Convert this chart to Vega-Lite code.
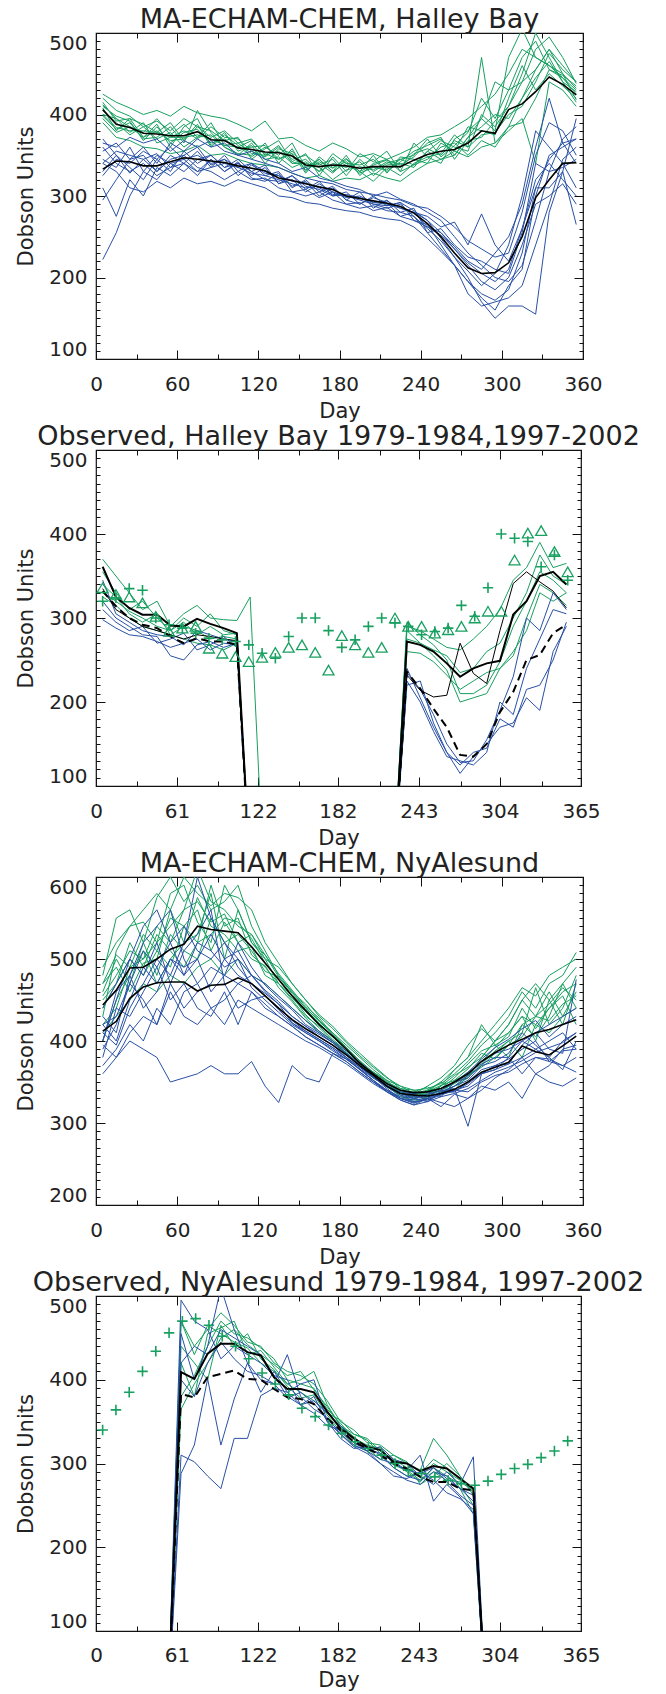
{
"$schema":"https://vega.github.io/schema/vega-lite/v6.json",
"padding":{"left":15,"top":4,"right":0,"bottom":0},
"autosize":{"type":"pad"},
"background":"white",
"config":{
 "view":{"stroke":"#111","strokeWidth":1.2},
 "axis":{"domain":false,"grid":false,"tickColor":"#111","tickWidth":1,"labelFont":"DejaVu Sans","labelFontSize":20,"labelColor":"#222","titleFont":"DejaVu Sans","titleFontSize":21,"titleFontWeight":"normal","titleColor":"#222","labelOverlap":false,"format":"d"},
 "title":{"font":"DejaVu Sans","fontSize":27,"fontWeight":"normal","color":"#222","offset":-1,"baseline":"alphabetic","anchor":"middle","frame":"group"}
},
"datasets":{
"p1":[
{"d":5,"g1":420,"g2":398,"g3":412,"g4":395,"g5":405,"g6":410,"g7":400,"g8":415,"g9":390,"g10":425,"g11":408,"g12":400,"b1":222,"b2":370,"b3":355,"b4":310,"b5":340,"b6":345,"b7":325,"b8":360,"b9":295,"b10":365,"b11":340,"b12":330,"mg":406,"mb":333},
{"d":15,"g1":405,"g2":382,"g3":395,"g4":378,"g5":390,"g6":398,"g7":384,"g8":392,"g9":372,"g10":415,"g11":380,"g12":395,"b1":255,"b2":350,"b3":365,"b4":275,"b5":355,"b6":335,"b7":345,"b8":340,"b9":320,"b10":360,"b11":330,"b12":350,"mg":388,"mb":343},
{"d":25,"g1":398,"g2":390,"g3":378,"g4":385,"g5":375,"g6":392,"g7":380,"g8":395,"g9":368,"g10":408,"g11":395,"g12":385,"b1":300,"b2":335,"b3":345,"b4":320,"b5":350,"b6":360,"b7":340,"b8":330,"b9":345,"b10":372,"b11":310,"b12":328,"mg":384,"mb":342},
{"d":35,"g1":385,"g2":370,"g3":390,"g4":372,"g5":385,"g6":368,"g7":380,"g8":372,"g9":360,"g10":400,"g11":388,"g12":378,"b1":330,"b2":320,"b3":350,"b4":300,"b5":345,"b6":330,"b7":355,"b8":340,"b9":360,"b10":365,"b11":305,"b12":345,"mg":377,"mb":337},
{"d":45,"g1":392,"g2":372,"g3":365,"g4":380,"g5":370,"g6":385,"g7":378,"g8":388,"g9":358,"g10":405,"g11":378,"g12":395,"b1":320,"b2":345,"b3":330,"b4":335,"b5":330,"b6":350,"b7":345,"b8":325,"b9":340,"b10":370,"b11":318,"b12":352,"mg":376,"mb":337},
{"d":55,"g1":380,"g2":385,"g3":372,"g4":368,"g5":378,"g6":365,"g7":372,"g8":360,"g9":352,"g10":398,"g11":390,"g12":375,"b1":340,"b2":330,"b3":350,"b4":325,"b5":345,"b6":340,"b7":360,"b8":335,"b9":365,"b10":355,"b11":310,"b12":335,"mg":374,"mb":342},
{"d":65,"g1":395,"g2":365,"g3":380,"g4":370,"g5":360,"g6":378,"g7":372,"g8":385,"g9":355,"g10":410,"g11":368,"g12":388,"b1":345,"b2":355,"b3":340,"b4":340,"b5":350,"b6":330,"b7":345,"b8":350,"b9":355,"b10":368,"b11":322,"b12":340,"mg":374,"mb":347},
{"d":75,"g1":385,"g2":405,"g3":370,"g4":388,"g5":372,"g6":382,"g7":375,"g8":395,"g9":362,"g10":402,"g11":385,"g12":372,"b1":330,"b2":340,"b3":355,"b4":330,"b5":360,"b6":345,"b7":350,"b8":335,"b9":370,"b10":360,"b11":315,"b12":325,"mg":379,"mb":345},
{"d":85,"g1":372,"g2":378,"g3":385,"g4":360,"g5":375,"g6":365,"g7":370,"g8":362,"g9":350,"g10":398,"g11":380,"g12":390,"b1":335,"b2":350,"b3":335,"b4":345,"b5":338,"b6":350,"b7":340,"b8":330,"b9":360,"b10":368,"b11":318,"b12":345,"mg":369,"mb":343},
{"d":95,"g1":380,"g2":360,"g3":372,"g4":375,"g5":360,"g6":370,"g7":362,"g8":378,"g9":352,"g10":395,"g11":368,"g12":362,"b1":340,"b2":335,"b3":350,"b4":330,"b5":345,"b6":335,"b7":345,"b8":320,"b9":365,"b10":355,"b11":312,"b12":330,"mg":368,"mb":341},
{"d":105,"g1":365,"g2":352,"g3":370,"g4":362,"g5":350,"g6":358,"g7":365,"g8":355,"g9":345,"g10":388,"g11":372,"g12":360,"b1":335,"b2":345,"b3":330,"b4":340,"b5":325,"b6":340,"b7":335,"b8":330,"b9":350,"b10":350,"b11":320,"b12":342,"mg":359,"mb":337},
{"d":115,"g1":370,"g2":350,"g3":355,"g4":348,"g5":365,"g6":360,"g7":352,"g8":362,"g9":340,"g10":380,"g11":345,"g12":368,"b1":328,"b2":330,"b3":340,"b4":325,"b5":338,"b6":330,"b7":340,"b8":320,"b9":355,"b10":345,"b11":315,"b12":322,"mg":357,"mb":334},
{"d":125,"g1":350,"g2":365,"g3":348,"g4":360,"g5":345,"g6":362,"g7":350,"g8":340,"g9":338,"g10":392,"g11":358,"g12":352,"b1":325,"b2":338,"b3":325,"b4":335,"b5":328,"b6":320,"b7":330,"b8":322,"b9":345,"b10":340,"b11":310,"b12":318,"mg":354,"mb":331},
{"d":135,"g1":362,"g2":340,"g3":360,"g4":350,"g5":348,"g6":345,"g7":355,"g8":358,"g9":335,"g10":370,"g11":368,"g12":345,"b1":320,"b2":315,"b3":330,"b4":315,"b5":325,"b6":318,"b7":325,"b8":310,"b9":340,"b10":335,"b11":300,"b12":328,"mg":353,"mb":322},
{"d":145,"g1":340,"g2":358,"g3":345,"g4":365,"g5":335,"g6":352,"g7":340,"g8":352,"g9":328,"g10":372,"g11":342,"g12":355,"b1":315,"b2":325,"b3":310,"b4":320,"b5":312,"b6":325,"b7":318,"b8":305,"b9":330,"b10":328,"b11":298,"b12":305,"mg":349,"mb":319},
{"d":155,"g1":345,"g2":330,"g3":350,"g4":335,"g5":342,"g6":328,"g7":340,"g8":332,"g9":322,"g10":362,"g11":352,"g12":335,"b1":310,"b2":308,"b3":320,"b4":305,"b5":318,"b6":312,"b7":316,"b8":300,"b9":335,"b10":322,"b11":292,"b12":308,"mg":338,"mb":315},
{"d":165,"g1":330,"g2":345,"g3":338,"g4":340,"g5":330,"g6":348,"g7":335,"g8":342,"g9":325,"g10":355,"g11":325,"g12":345,"b1":312,"b2":318,"b3":305,"b4":315,"b5":300,"b6":308,"b7":310,"b8":305,"b9":322,"b10":318,"b11":290,"b12":298,"mg":336,"mb":311},
{"d":175,"g1":352,"g2":330,"g3":345,"g4":328,"g5":340,"g6":335,"g7":320,"g8":334,"g9":318,"g10":365,"g11":348,"g12":330,"b1":305,"b2":300,"b3":312,"b4":305,"b5":310,"b6":300,"b7":302,"b8":295,"b9":318,"b10":315,"b11":285,"b12":305,"mg":338,"mb":308},
{"d":185,"g1":340,"g2":350,"g3":325,"g4":345,"g5":335,"g6":342,"g7":332,"g8":346,"g9":322,"g10":358,"g11":330,"g12":340,"b1":298,"b2":305,"b3":295,"b4":300,"b5":295,"b6":302,"b7":300,"b8":290,"b9":312,"b10":308,"b11":282,"b12":290,"mg":337,"mb":300},
{"d":195,"g1":338,"g2":325,"g3":345,"g4":330,"g5":342,"g6":330,"g7":336,"g8":330,"g9":320,"g10":348,"g11":352,"g12":328,"b1":300,"b2":290,"b3":305,"b4":295,"b5":290,"b6":298,"b7":298,"b8":285,"b9":308,"b10":305,"b11":280,"b12":292,"mg":334,"mb":297},
{"d":205,"g1":345,"g2":340,"g3":330,"g4":318,"g5":325,"g6":350,"g7":332,"g8":338,"g9":328,"g10":352,"g11":342,"g12":335,"b1":292,"b2":300,"b3":285,"b4":290,"b5":298,"b6":290,"b7":292,"b8":288,"b9":300,"b10":302,"b11":275,"b12":282,"mg":336,"mb":294},
{"d":215,"g1":330,"g2":345,"g3":340,"g4":335,"g5":338,"g6":328,"g7":342,"g8":344,"g9":322,"g10":345,"g11":355,"g12":332,"b1":290,"b2":288,"b3":295,"b4":285,"b5":292,"b6":288,"b7":294,"b8":282,"b9":305,"b10":298,"b11":272,"b12":286,"mg":336,"mb":291},
{"d":225,"g1":342,"g2":330,"g3":345,"g4":325,"g5":340,"g6":348,"g7":335,"g8":338,"g9":318,"g10":352,"g11":330,"g12":345,"b1":285,"b2":292,"b3":280,"b4":290,"b5":275,"b6":292,"b7":285,"b8":280,"b9":296,"b10":295,"b11":270,"b12":275,"mg":336,"mb":287},
{"d":235,"g1":355,"g2":338,"g3":350,"g4":340,"g5":335,"g6":345,"g7":352,"g8":348,"g9":330,"g10":360,"g11":365,"g12":338,"b1":280,"b2":270,"b3":285,"b4":275,"b5":270,"b6":282,"b7":280,"b8":275,"b9":290,"b10":288,"b11":262,"b12":280,"mg":344,"mb":279},
{"d":245,"g1":362,"g2":345,"g3":370,"g4":348,"g5":355,"g6":340,"g7":358,"g8":365,"g9":340,"g10":372,"g11":348,"g12":355,"b1":270,"b2":265,"b3":255,"b4":260,"b5":262,"b6":270,"b7":275,"b8":255,"b9":280,"b10":285,"b11":248,"b12":262,"mg":351,"mb":266},
{"d":255,"g1":370,"g2":360,"g3":348,"g4":352,"g5":345,"g6":365,"g7":350,"g8":372,"g9":345,"g10":375,"g11":340,"g12":368,"b1":255,"b2":240,"b3":260,"b4":245,"b5":255,"b6":248,"b7":262,"b8":235,"b9":270,"b10":275,"b11":232,"b12":252,"mg":355,"mb":250},
{"d":265,"g1":350,"g2":365,"g3":362,"g4":375,"g5":350,"g6":355,"g7":368,"g8":345,"g9":355,"g10":385,"g11":370,"g12":360,"b1":235,"b2":215,"b3":240,"b4":225,"b5":238,"b6":225,"b7":268,"b8":215,"b9":250,"b10":262,"b11":215,"b12":235,"mg":357,"mb":230},
{"d":275,"g1":372,"g2":350,"g3":378,"g4":360,"g5":372,"g6":385,"g7":360,"g8":368,"g9":348,"g10":395,"g11":380,"g12":355,"b1":215,"b2":195,"b3":225,"b4":200,"b5":220,"b6":208,"b7":240,"b8":180,"b9":230,"b10":245,"b11":195,"b12":218,"mg":365,"mb":212},
{"d":285,"g1":395,"g2":368,"g3":420,"g4":470,"g5":385,"g6":380,"g7":375,"g8":372,"g9":360,"g10":410,"g11":395,"g12":400,"b1":195,"b2":175,"b3":220,"b4":170,"b5":210,"b6":190,"b7":278,"b8":165,"b9":215,"b10":235,"b11":180,"b12":205,"mg":380,"mb":205},
{"d":295,"g1":380,"g2":360,"g3":395,"g4":365,"g5":400,"g6":375,"g7":378,"g8":392,"g9":365,"g10":425,"g11":440,"g12":385,"b1":185,"b2":160,"b3":210,"b4":150,"b5":230,"b6":205,"b7":240,"b8":170,"b9":200,"b10":225,"b11":172,"b12":195,"mg":377,"mb":206},
{"d":305,"g1":470,"g2":385,"g3":430,"g4":380,"g5":395,"g6":420,"g7":400,"g8":410,"g9":385,"g10":450,"g11":430,"g12":410,"b1":200,"b2":190,"b3":205,"b4":165,"b5":250,"b6":240,"b7":220,"b8":175,"b9":195,"b10":230,"b11":185,"b12":210,"mg":406,"mb":218},
{"d":315,"g1":505,"g2":390,"g3":440,"g4":395,"g5":420,"g6":460,"g7":410,"g8":450,"g9":420,"g10":480,"g11":470,"g12":440,"b1":240,"b2":210,"b3":255,"b4":165,"b5":290,"b6":300,"b7":260,"b8":190,"b9":215,"b10":280,"b11":230,"b12":260,"mg":413,"mb":250},
{"d":325,"g1":470,"g2":420,"g3":455,"g4":340,"g5":445,"g6":430,"g7":440,"g8":500,"g9":455,"g10":470,"g11":490,"g12":480,"b1":290,"b2":300,"b3":340,"b4":155,"b5":360,"b6":380,"b7":310,"b8":240,"b9":270,"b10":350,"b11":310,"b12":320,"mg":428,"mb":298},
{"d":335,"g1":460,"g2":455,"g3":480,"g4":440,"g5":465,"g6":450,"g7":475,"g8":470,"g9":480,"g10":460,"g11":455,"g12":495,"b1":300,"b2":350,"b3":330,"b4":280,"b5":420,"b6":360,"b7":310,"b8":290,"b9":330,"b10":390,"b11":345,"b12":340,"mg":446,"mb":320},
{"d":345,"g1":445,"g2":448,"g3":450,"g4":430,"g5":440,"g6":435,"g7":455,"g8":440,"g9":460,"g10":450,"g11":445,"g12":470,"b1":315,"b2":360,"b3":335,"b4":330,"b5":365,"b6":340,"b7":330,"b8":345,"b9":370,"b10":380,"b11":365,"b12":320,"mg":437,"mb":340},
{"d":355,"g1":430,"g2":435,"g3":418,"g4":410,"g5":428,"g6":420,"g7":440,"g8":415,"g9":440,"g10":432,"g11":425,"g12":438,"b1":290,"b2":370,"b3":345,"b4":395,"b5":340,"b6":310,"b7":265,"b8":360,"b9":385,"b10":350,"b11":370,"b12":300,"mg":424,"mb":341}
],
"p3":[
{"d":5,"g1":480,"g2":420,"g3":460,"g4":440,"g5":470,"g6":400,"g7":450,"g8":430,"g9":490,"g10":410,"g11":455,"g12":470,"b1":360,"b2":410,"b3":400,"b4":390,"b5":420,"b6":380,"b7":430,"b8":400,"b9":420,"b10":370,"b11":440,"b12":395,"mg":444,"mb":412},
{"d":15,"g1":550,"g2":440,"g3":500,"g4":470,"g5":490,"g6":450,"g7":470,"g8":510,"g9":520,"g10":430,"g11":480,"g12":505,"b1":380,"b2":395,"b3":460,"b4":420,"b5":400,"b6":440,"b7":410,"b8":450,"b9":430,"b10":390,"b11":470,"b12":380,"mg":462,"mb":424},
{"d":25,"g1":560,"g2":490,"g3":470,"g4":500,"g5":460,"g6":480,"g7":520,"g8":540,"g9":540,"g10":450,"g11":510,"g12":490,"b1":400,"b2":440,"b3":480,"b4":470,"b5":450,"b6":430,"b7":480,"b8":500,"b9":470,"b10":420,"b11":500,"b12":410,"mg":489,"mb":452},
{"d":35,"g1":520,"g2":500,"g3":520,"g4":480,"g5":495,"g6":510,"g7":490,"g8":545,"g9":560,"g10":470,"g11":500,"g12":530,"b1":390,"b2":470,"b3":520,"b4":450,"b5":490,"b6":460,"b7":440,"b8":480,"b9":510,"b10":400,"b11":540,"b12":430,"mg":490,"mb":466},
{"d":45,"g1":575,"g2":540,"g3":480,"g4":510,"g5":500,"g6":470,"g7":530,"g8":520,"g9":580,"g10":460,"g11":520,"g12":510,"b1":380,"b2":500,"b3":540,"b4":420,"b5":470,"b6":490,"b7":460,"b8":520,"b9":490,"b10":440,"b11":560,"b12":420,"mg":500,"mb":471},
{"d":55,"g1":600,"g2":520,"g3":530,"g4":490,"g5":560,"g6":500,"g7":510,"g8":580,"g9":560,"g10":480,"g11":540,"g12":550,"b1":350,"b2":480,"b3":560,"b4":470,"b5":500,"b6":450,"b7":500,"b8":470,"b9":520,"b10":420,"b11":520,"b12":460,"mg":512,"mb":472},
{"d":65,"g1":570,"g2":560,"g3":510,"g4":540,"g5":520,"g6":520,"g7":490,"g8":590,"g9":600,"g10":470,"g11":560,"g12":540,"b1":355,"b2":520,"b3":500,"b4":440,"b5":480,"b6":470,"b7":490,"b8":510,"b9":540,"b10":460,"b11":480,"b12":430,"mg":518,"mb":472},
{"d":75,"g1":590,"g2":610,"g3":500,"g4":560,"g5":530,"g6":575,"g7":520,"g8":545,"g9":580,"g10":490,"g11":570,"g12":520,"b1":360,"b2":600,"b3":470,"b4":460,"b5":520,"b6":440,"b7":500,"b8":530,"b9":510,"b10":470,"b11":500,"b12":420,"mg":540,"mb":461},
{"d":85,"g1":560,"g2":570,"g3":550,"g4":510,"g5":580,"g6":540,"g7":530,"g8":520,"g9":565,"g10":500,"g11":545,"g12":590,"b1":370,"b2":550,"b3":490,"b4":470,"b5":510,"b6":430,"b7":460,"b8":560,"b9":500,"b10":440,"b11":530,"b12":440,"mg":536,"mb":468},
{"d":95,"g1":570,"g2":560,"g3":520,"g4":545,"g5":500,"g6":530,"g7":550,"g8":590,"g9":580,"g10":480,"g11":555,"g12":540,"b1":360,"b2":520,"b3":480,"b4":500,"b5":490,"b6":460,"b7":480,"b8":470,"b9":520,"b10":450,"b11":500,"b12":420,"mg":534,"mb":469},
{"d":105,"g1":590,"g2":540,"g3":530,"g4":520,"g5":560,"g6":510,"g7":545,"g8":560,"g9":575,"g10":500,"g11":520,"g12":550,"b1":360,"b2":500,"b3":520,"b4":480,"b5":500,"b6":420,"b7":470,"b8":440,"b9":490,"b10":470,"b11":510,"b12":450,"mg":532,"mb":477},
{"d":115,"g1":540,"g2":530,"g3":510,"g4":500,"g5":520,"g6":515,"g7":525,"g8":520,"g9":560,"g10":480,"g11":530,"g12":505,"b1":375,"b2":480,"b3":490,"b4":470,"b5":465,"b6":460,"b7":480,"b8":450,"b9":470,"b10":460,"b11":480,"b12":440,"mg":515,"mb":470},
{"d":125,"g1":510,"g2":500,"g3":485,"g4":492,"g5":505,"g6":480,"g7":495,"g8":500,"g9":520,"g10":470,"g11":505,"g12":490,"b1":345,"b2":460,"b3":468,"b4":458,"b5":450,"b6":440,"b7":462,"b8":455,"b9":455,"b10":445,"b11":470,"b12":430,"mg":495,"mb":455},
{"d":135,"g1":480,"g2":470,"g3":478,"g4":465,"g5":482,"g6":470,"g7":475,"g8":490,"g9":495,"g10":455,"g11":478,"g12":470,"b1":325,"b2":445,"b3":452,"b4":445,"b5":435,"b6":430,"b7":448,"b8":440,"b9":438,"b10":430,"b11":455,"b12":420,"mg":475,"mb":440},
{"d":145,"g1":460,"g2":450,"g3":460,"g4":448,"g5":462,"g6":452,"g7":455,"g8":470,"g9":470,"g10":440,"g11":458,"g12":455,"b1":370,"b2":430,"b3":438,"b4":422,"b5":420,"b6":418,"b7":430,"b8":425,"b9":422,"b10":418,"b11":440,"b12":410,"mg":455,"mb":426},
{"d":155,"g1":440,"g2":430,"g3":445,"g4":428,"g5":442,"g6":436,"g7":432,"g8":450,"g9":450,"g10":425,"g11":440,"g12":438,"b1":355,"b2":418,"b3":420,"b4":412,"b5":410,"b6":405,"b7":418,"b8":412,"b9":410,"b10":405,"b11":425,"b12":400,"mg":437,"mb":415},
{"d":165,"g1":425,"g2":418,"g3":425,"g4":412,"g5":428,"g6":420,"g7":416,"g8":430,"g9":432,"g10":410,"g11":424,"g12":422,"b1":350,"b2":405,"b3":410,"b4":402,"b5":400,"b6":395,"b7":408,"b8":402,"b9":400,"b10":395,"b11":412,"b12":392,"mg":420,"mb":405},
{"d":175,"g1":410,"g2":402,"g3":410,"g4":400,"g5":408,"g6":405,"g7":400,"g8":415,"g9":418,"g10":398,"g11":408,"g12":405,"b1":385,"b2":395,"b3":398,"b4":392,"b5":388,"b6":385,"b7":398,"b8":392,"b9":390,"b10":385,"b11":400,"b12":382,"mg":406,"mb":395},
{"d":185,"g1":395,"g2":388,"g3":392,"g4":385,"g5":390,"g6":392,"g7":386,"g8":398,"g9":400,"g10":384,"g11":392,"g12":390,"b1":378,"b2":380,"b3":385,"b4":380,"b5":378,"b6":375,"b7":385,"b8":380,"b9":378,"b10":375,"b11":388,"b12":372,"mg":390,"mb":383},
{"d":195,"g1":380,"g2":374,"g3":370,"g4":372,"g5":376,"g6":372,"g7":372,"g8":382,"g9":385,"g10":370,"g11":376,"g12":372,"b1":366,"b2":365,"b3":370,"b4":368,"b5":366,"b6":362,"b7":372,"b8":368,"b9":365,"b10":362,"b11":374,"b12":360,"mg":373,"mb":370},
{"d":205,"g1":365,"g2":360,"g3":355,"g4":362,"g5":358,"g6":362,"g7":358,"g8":368,"g9":370,"g10":356,"g11":362,"g12":360,"b1":352,"b2":352,"b3":355,"b4":356,"b5":355,"b6":350,"b7":360,"b8":356,"b9":352,"b10":350,"b11":360,"b12":348,"mg":360,"mb":358},
{"d":215,"g1":352,"g2":348,"g3":345,"g4":350,"g5":344,"g6":352,"g7":346,"g8":355,"g9":356,"g10":344,"g11":350,"g12":348,"b1":338,"b2":340,"b3":345,"b4":342,"b5":345,"b6":340,"b7":348,"b8":344,"b9":340,"b10":338,"b11":346,"b12":338,"mg":348,"mb":345},
{"d":225,"g1":345,"g2":338,"g3":332,"g4":342,"g5":340,"g6":336,"g7":338,"g8":345,"g9":342,"g10":334,"g11":340,"g12":338,"b1":328,"b2":330,"b3":336,"b4":330,"b5":338,"b6":332,"b7":340,"b8":334,"b9":330,"b10":328,"b11":336,"b12":330,"mg":340,"mb":336},
{"d":235,"g1":340,"g2":332,"g3":328,"g4":340,"g5":334,"g6":338,"g7":330,"g8":336,"g9":336,"g10":326,"g11":335,"g12":330,"b1":322,"b2":328,"b3":332,"b4":325,"b5":335,"b6":330,"b7":336,"b8":330,"b9":324,"b10":322,"b11":330,"b12":326,"mg":337,"mb":334},
{"d":245,"g1":342,"g2":336,"g3":340,"g4":330,"g5":338,"g6":344,"g7":340,"g8":335,"g9":340,"g10":332,"g11":345,"g12":338,"b1":330,"b2":330,"b3":335,"b4":330,"b5":328,"b6":326,"b7":338,"b8":332,"b9":330,"b10":326,"b11":334,"b12":328,"mg":338,"mb":333},
{"d":255,"g1":348,"g2":340,"g3":338,"g4":345,"g5":350,"g6":336,"g7":342,"g8":345,"g9":350,"g10":340,"g11":355,"g12":346,"b1":325,"b2":335,"b3":340,"b4":320,"b5":336,"b6":338,"b7":332,"b8":336,"b9":338,"b10":332,"b11":340,"b12":334,"mg":342,"mb":336},
{"d":265,"g1":360,"g2":350,"g3":345,"g4":365,"g5":340,"g6":352,"g7":355,"g8":358,"g9":365,"g10":348,"g11":370,"g12":352,"b1":320,"b2":340,"b3":338,"b4":335,"b5":345,"b6":342,"b7":350,"b8":338,"b9":345,"b10":336,"b11":350,"b12":340,"mg":350,"mb":341},
{"d":275,"g1":375,"g2":362,"g3":355,"g4":380,"g5":358,"g6":366,"g7":372,"g8":368,"g9":380,"g10":358,"g11":395,"g12":360,"b1":330,"b2":345,"b3":350,"b4":330,"b5":352,"b6":296,"b7":355,"b8":348,"b9":358,"b10":342,"b11":362,"b12":338,"mg":360,"mb":350},
{"d":285,"g1":395,"g2":372,"g3":380,"g4":420,"g5":370,"g6":385,"g7":388,"g8":380,"g9":400,"g10":368,"g11":415,"g12":375,"b1":345,"b2":360,"b3":365,"b4":340,"b5":370,"b6":360,"b7":372,"b8":360,"b9":375,"b10":352,"b11":378,"b12":350,"mg":375,"mb":362},
{"d":295,"g1":410,"g2":388,"g3":400,"g4":395,"g5":385,"g6":378,"g7":395,"g8":400,"g9":420,"g10":380,"g11":400,"g12":392,"b1":340,"b2":365,"b3":370,"b4":355,"b5":375,"b6":365,"b7":380,"b8":370,"b9":385,"b10":362,"b11":392,"b12":358,"mg":386,"mb":368},
{"d":305,"g1":430,"g2":400,"g3":410,"g4":380,"g5":400,"g6":395,"g7":405,"g8":420,"g9":440,"g10":395,"g11":420,"g12":410,"b1":350,"b2":380,"b3":372,"b4":365,"b5":385,"b6":372,"b7":380,"b8":378,"b9":390,"b10":368,"b11":402,"b12":362,"mg":395,"mb":374},
{"d":315,"g1":460,"g2":380,"g3":430,"g4":420,"g5":410,"g6":420,"g7":440,"g8":450,"g9":465,"g10":405,"g11":450,"g12":430,"b1":330,"b2":400,"b3":395,"b4":380,"b5":410,"b6":380,"b7":360,"b8":390,"b9":400,"b10":376,"b11":415,"b12":372,"mg":402,"mb":394},
{"d":325,"g1":440,"g2":420,"g3":400,"g4":405,"g5":465,"g6":430,"g7":415,"g8":430,"g9":455,"g10":430,"g11":470,"g12":420,"b1":360,"b2":390,"b3":410,"b4":360,"b5":395,"b6":390,"b7":380,"b8":400,"b9":410,"b10":386,"b11":425,"b12":380,"mg":410,"mb":387},
{"d":335,"g1":470,"g2":410,"g3":450,"g4":430,"g5":420,"g6":460,"g7":440,"g8":445,"g9":480,"g10":425,"g11":450,"g12":440,"b1":350,"b2":380,"b3":390,"b4":370,"b5":380,"b6":400,"b7":375,"b8":375,"b9":420,"b10":392,"b11":405,"b12":378,"mg":414,"mb":383},
{"d":345,"g1":480,"g2":430,"g3":420,"g4":470,"g5":440,"g6":430,"g7":455,"g8":465,"g9":490,"g10":445,"g11":470,"g12":460,"b1":345,"b2":400,"b3":385,"b4":390,"b5":365,"b6":410,"b7":370,"b8":388,"b9":430,"b10":398,"b11":420,"b12":370,"mg":420,"mb":394},
{"d":355,"g1":508,"g2":440,"g3":470,"g4":440,"g5":480,"g6":460,"g7":420,"g8":450,"g9":500,"g10":455,"g11":490,"g12":470,"b1":355,"b2":410,"b3":475,"b4":395,"b5":400,"b6":390,"b7":380,"b8":390,"b9":440,"b10":410,"b11":430,"b12":362,"mg":426,"mb":406}
],
"p2":[
{"d":5,"g1":370,"g2":355,"g3":340,"g4":325,"g5":330,"b1":320,"b2":345,"b3":310,"b4":298,"k":361,"t":335,"q":332},
{"d":15,"g1":350,"g2":330,"g3":325,"g4":315,"g5":320,"b1":300,"b2":305,"b3":295,"b4":288,"k":325,"t":310,"q":314},
{"d":25,"g1":330,"g2":310,"g3":305,"g4":300,"g5":308,"b1":290,"b2":295,"b3":285,"b4":280,"k":312,"t":300,"q":300},
{"d":35,"g1":310,"g2":320,"g3":295,"g4":290,"g5":300,"b1":280,"b2":285,"b3":290,"b4":278,"k":304,"t":290,"q":292},
{"d":46,"g1":320,"g2":300,"g3":305,"g4":285,"g5":290,"b1":278,"b2":280,"b3":270,"b4":272,"k":304,"t":285,"q":288},
{"d":56,"g1":290,"g2":285,"g3":280,"g4":280,"g5":285,"b1":255,"b2":278,"b3":275,"b4":265,"k":291,"t":280,"q":278},
{"d":66,"g1":305,"g2":300,"g3":290,"g4":275,"g5":295,"b1":250,"b2":268,"b3":282,"b4":270,"k":290,"t":275,"q":270},
{"d":76,"g1":315,"g2":290,"g3":285,"g4":270,"g5":280,"b1":268,"b2":285,"b3":262,"b4":275,"k":299,"t":280,"q":276},
{"d":86,"g1":300,"g2":305,"g3":275,"g4":268,"g5":290,"b1":272,"b2":280,"b3":268,"b4":262,"k":293,"t":278,"q":272},
{"d":96,"g1":298,"g2":285,"g3":278,"g4":262,"g5":280,"b1":265,"b2":275,"b3":278,"b4":270,"k":288,"t":275,"q":272},
{"d":106,"g1":297,"g2":280,"g3":275,"g4":270,"g5":282,"b1":270,"b2":272,"b3":265,"b4":268,"k":282,"t":273,"q":268},
{"d":116,"g1":325,"g2":0,"g3":0,"g4":0,"g5":0,"b1":0,"b2":0,"b3":0,"b4":0,"k":0,"t":0,"q":0},
{"d":126,"g1":0,"g2":0,"g3":0,"g4":0,"g5":0,"b1":0,"b2":0,"b3":0,"b4":0,"k":0,"t":0,"q":0},
{"d":224,"g1":0,"g2":0,"g3":0,"g4":0,"g5":0,"b1":0,"b2":0,"b3":0,"b4":0,"k":0,"t":0,"q":0},
{"d":234,"g1":290,"g2":275,"g3":260,"g4":285,"g5":295,"b1":240,"b2":220,"b3":225,"b4":235,"k":272,"t":232,"q":236},
{"d":244,"g1":285,"g2":270,"g3":258,"g4":270,"g5":280,"b1":205,"b2":225,"b3":200,"b4":215,"k":268,"t":214,"q":216},
{"d":254,"g1":275,"g2":262,"g3":248,"g4":255,"g5":268,"b1":170,"b2":175,"b3":165,"b4":185,"k":260,"t":206,"q":192},
{"d":264,"g1":265,"g2":255,"g3":232,"g4":238,"g5":250,"b1":140,"b2":140,"b3":135,"b4":150,"k":246,"t":208,"q":170},
{"d":274,"g1":262,"g2":235,"g3":215,"g4":200,"g5":210,"b1":115,"b2":125,"b3":130,"b4":128,"k":230,"t":270,"q":137},
{"d":284,"g1":275,"g2":240,"g3":225,"g4":205,"g5":210,"b1":135,"b2":140,"b3":125,"b4":130,"k":240,"t":234,"q":135},
{"d":294,"g1":290,"g2":260,"g3":235,"g4":210,"g5":220,"b1":150,"b2":145,"b3":140,"b4":155,"k":246,"t":222,"q":150},
{"d":304,"g1":310,"g2":270,"g3":240,"g4":240,"g5":248,"b1":170,"b2":180,"b3":200,"b4":190,"k":249,"t":285,"q":188},
{"d":314,"g1":345,"g2":300,"g3":260,"g4":255,"g5":290,"b1":175,"b2":170,"b3":185,"b4":230,"k":304,"t":341,"q":212},
{"d":324,"g1":360,"g2":330,"g3":285,"g4":300,"g5":320,"b1":205,"b2":215,"b3":240,"b4":300,"k":320,"t":355,"q":250},
{"d":334,"g1":390,"g2":375,"g3":330,"g4":340,"g5":355,"b1":190,"b2":220,"b3":275,"b4":285,"k":350,"t":343,"q":256},
{"d":344,"g1":360,"g2":350,"g3":320,"g4":330,"g5":345,"b1":260,"b2":250,"b3":310,"b4":330,"k":355,"t":332,"q":282},
{"d":354,"g1":365,"g2":340,"g3":330,"g4":315,"g5":330,"b1":290,"b2":295,"b3":305,"b4":310,"k":340,"t":312,"q":292}
],
"p2m":[
{"d":5,"p":320,"t":336},{"d":15,"p":324,"t":328},{"d":25,"p":335,"t":325},{"d":35,"p":333,"t":318},{"d":45,"p":300,"t":302},{"d":55,"p":292,"t":284},{"d":65,"p":288,"t":288},{"d":75,"p":282,"t":290},{"d":85,"p":276,"t":264},{"d":95,"p":274,"t":258},{"d":105,"p":272,"t":254},{"d":115,"p":268,"t":248},{"d":125,"p":258,"t":253},{"d":135,"p":252,"t":259},{"d":145,"p":278,"t":265},{"d":155,"p":300,"t":268},{"d":165,"p":300,"t":259},{"d":175,"p":285,"t":238},{"d":185,"p":265,"t":279},{"d":195,"p":274,"t":268},{"d":205,"p":290,"t":259},{"d":215,"p":300,"t":265},{"d":225,"p":294,"t":300},{"d":235,"p":290,"t":290},{"d":245,"p":280,"t":290},{"d":255,"p":284,"t":282},{"d":265,"p":288,"t":286},{"d":275,"p":315,"t":290},{"d":285,"p":302,"t":300},{"d":295,"p":336,"t":308},{"d":305,"p":400,"t":308},{"d":315,"p":395,"t":369},{"d":325,"p":391,"t":401},{"d":335,"p":361,"t":404},{"d":345,"p":375,"t":379},{"d":355,"p":345,"t":355}
],
"p4":[
{"d":54,"g1":0,"g2":0,"g3":0,"g4":0,"g5":0,"g6":0,"b1":0,"b2":0,"b3":0,"b4":0,"b5":0,"b6":0,"k":0,"q":0},
{"d":64,"g1":470,"g2":420,"g3":380,"g4":470,"g5":365,"g6":440,"b1":495,"b2":310,"b3":455,"b4":288,"b5":420,"b6":400,"k":409,"q":383},
{"d":74,"g1":440,"g2":380,"g3":405,"g4":430,"g5":395,"g6":420,"b1":470,"b2":302,"b3":400,"b4":322,"b5":440,"b6":380,"k":401,"q":379},
{"d":84,"g1":460,"g2":455,"g3":440,"g4":465,"g5":420,"g6":400,"b1":460,"b2":285,"b3":440,"b4":401,"b5":430,"b6":420,"k":431,"q":403},
{"d":94,"g1":480,"g2":462,"g3":470,"g4":455,"g5":450,"g6":465,"b1":425,"b2":270,"b3":510,"b4":322,"b5":460,"b6":445,"k":443,"q":407},
{"d":104,"g1":465,"g2":470,"g3":455,"g4":445,"g5":460,"g6":440,"b1":440,"b2":330,"b3":460,"b4":377,"b5":450,"b6":425,"k":443,"q":411},
{"d":114,"g1":445,"g2":430,"g3":450,"g4":438,"g5":442,"g6":455,"b1":430,"b2":330,"b3":420,"b4":420,"b5":440,"b6":410,"k":433,"q":401},
{"d":124,"g1":440,"g2":435,"g3":438,"g4":420,"g5":430,"g6":425,"b1":420,"b2":381,"b3":385,"b4":400,"b5":430,"b6":405,"k":429,"q":400},
{"d":134,"g1":420,"g2":415,"g3":425,"g4":410,"g5":418,"g6":412,"b1":405,"b2":390,"b3":410,"b4":395,"b5":405,"b6":395,"k":403,"q":389},
{"d":144,"g1":410,"g2":395,"g3":400,"g4":395,"g5":405,"g6":392,"b1":380,"b2":385,"b3":385,"b4":430,"b5":400,"b6":378,"k":389,"q":379},
{"d":154,"g1":405,"g2":400,"g3":395,"g4":385,"g5":410,"g6":378,"b1":370,"b2":370,"b3":395,"b4":380,"b5":370,"b6":385,"k":389,"q":377},
{"d":164,"g1":395,"g2":410,"g3":390,"g4":375,"g5":388,"g6":382,"b1":380,"b2":360,"b3":400,"b4":365,"b5":375,"b6":372,"k":385,"q":371},
{"d":174,"g1":375,"g2":370,"g3":365,"g4":360,"g5":368,"g6":358,"b1":350,"b2":345,"b3":350,"b4":355,"b5":360,"b6":352,"k":362,"q":354},
{"d":184,"g1":350,"g2":345,"g3":348,"g4":352,"g5":345,"g6":338,"b1":335,"b2":340,"b3":330,"b4":335,"b5":345,"b6":338,"k":342,"q":340},
{"d":194,"g1":340,"g2":335,"g3":330,"g4":335,"g5":332,"g6":322,"b1":322,"b2":325,"b3":318,"b4":320,"b5":330,"b6":325,"k":330,"q":326},
{"d":204,"g1":325,"g2":330,"g3":322,"g4":328,"g5":318,"g6":315,"b1":315,"b2":315,"b3":320,"b4":312,"b5":315,"b6":318,"k":320,"q":318},
{"d":214,"g1":322,"g2":315,"g3":318,"g4":312,"g5":305,"g6":320,"b1":305,"b2":300,"b3":310,"b4":300,"b5":320,"b6":312,"k":316,"q":310},
{"d":224,"g1":310,"g2":305,"g3":300,"g4":295,"g5":310,"g6":298,"b1":300,"b2":290,"b3":295,"b4":285,"b5":305,"b6":302,"k":302,"q":300},
{"d":234,"g1":300,"g2":295,"g3":290,"g4":285,"g5":302,"g6":292,"b1":292,"b2":280,"b3":285,"b4":282,"b5":300,"b6":292,"k":300,"q":294},
{"d":244,"g1":292,"g2":285,"g3":278,"g4":288,"g5":275,"g6":280,"b1":310,"b2":275,"b3":280,"b4":290,"b5":285,"b6":288,"k":291,"q":284},
{"d":254,"g1":330,"g2":300,"g3":295,"g4":305,"g5":285,"g6":290,"b1":255,"b2":290,"b3":295,"b4":280,"b5":275,"b6":295,"k":297,"q":278},
{"d":264,"g1":310,"g2":290,"g3":285,"g4":295,"g5":300,"g6":280,"b1":275,"b2":285,"b3":278,"b4":265,"b5":290,"b6":282,"k":294,"q":278},
{"d":274,"g1":285,"g2":280,"g3":275,"g4":270,"g5":285,"g6":278,"b1":260,"b2":270,"b3":262,"b4":258,"b5":275,"b6":270,"k":282,"q":270},
{"d":284,"g1":265,"g2":270,"g3":250,"g4":240,"g5":262,"g6":268,"b1":240,"b2":255,"b3":250,"b4":245,"b5":308,"b6":262,"k":270,"q":268},
{"d":294,"g1":0,"g2":0,"g3":0,"g4":0,"g5":0,"g6":0,"b1":0,"b2":0,"b3":0,"b4":0,"b5":0,"b6":0,"k":0,"q":0}
],
"p4m":[
{"d":5,"p":340},{"d":15,"p":364},{"d":25,"p":385},{"d":35,"p":410},{"d":45,"p":434},{"d":55,"p":456},{"d":65,"p":470},{"d":75,"p":473},{"d":85,"p":465},{"d":95,"p":452},{"d":105,"p":440},{"d":115,"p":425},{"d":125,"p":408},{"d":135,"p":395},{"d":145,"p":382},{"d":155,"p":366},{"d":165,"p":356},{"d":175,"p":346},{"d":185,"p":336},{"d":195,"p":326},{"d":205,"p":318},{"d":215,"p":310},{"d":225,"p":300},{"d":235,"p":292},{"d":245,"p":288},{"d":255,"p":284},{"d":265,"p":280},{"d":275,"p":276},{"d":285,"p":274},{"d":295,"p":279},{"d":305,"p":287},{"d":315,"p":294},{"d":325,"p":299},{"d":335,"p":307},{"d":345,"p":315},{"d":355,"p":327}
]
},
"vconcat":[
{
 "width":487,"height":326,
 "title":{"text":"MA-ECHAM-CHEM, Halley Bay"},
 "layer":[
  {"data":{"name":"p1"},"transform":[{"fold":["g1","g2","g3","g4","g5","g6","g7","g8","g9","g10","g11","g12"],"as":["s","v"]}],
   "mark":{"type":"line","color":"#18a060","strokeWidth":1,"clip":true},
   "encoding":{
    "x":{"field":"d","type":"quantitative","scale":{"domain":[0,360],"nice":false,"zero":false},"axis":{"orient":"bottom","values":[0,60,120,180,240,300,360],"tickSize":-9,"labelPadding":24,"title":"Day","titlePadding":6,"labelFlush":false}},
    "y":{"field":"v","type":"quantitative","scale":{"domain":[100,500],"nice":false,"zero":false},"axis":{"orient":"left","values":[100,200,300,400,500],"tickSize":-9,"labelPadding":18,"title":"Dobson Units","titlePadding":12,"labelFlush":true}},
    "detail":{"field":"s"}}},
  {"data":{"name":"p1"},"transform":[{"fold":["b1","b2","b3","b4","b5","b6","b7","b8","b9","b10","b11","b12"],"as":["s","v"]}],
   "mark":{"type":"line","color":"#2850a5","strokeWidth":1,"clip":true},
   "encoding":{
    "x":{"field":"d","type":"quantitative","scale":{"domain":[0,360],"nice":false,"zero":false},"axis":{"orient":"bottom","values":[30,90,150,210,270,330],"tickSize":-5,"labels":false,"title":null}},
    "y":{"field":"v","type":"quantitative","scale":{"domain":[100,500],"nice":false,"zero":false},"axis":{"orient":"left","values":[110,120,130,140,150,160,170,180,190,210,220,230,240,250,260,270,280,290,310,320,330,340,350,360,370,380,390,410,420,430,440,450,460,470,480,490],"tickSize":-4,"labels":false,"title":null}},
    "detail":{"field":"s"}}},
  {"data":{"name":"p1"},"transform":[{"fold":["mg","mb"],"as":["s","v"]}],
   "mark":{"type":"line","color":"#000","strokeWidth":1.6,"clip":true},
   "encoding":{
    "x":{"field":"d","type":"quantitative","scale":{"domain":[0,360],"nice":false,"zero":false},"axis":{"orient":"top","values":[0,60,120,180,240,300,360],"tickSize":-9,"labels":false,"title":null}},
    "y":{"field":"v","type":"quantitative","scale":{"domain":[100,500],"nice":false,"zero":false},"axis":{"orient":"right","values":[100,200,300,400,500],"tickSize":-9,"labels":false,"title":null}},
    "detail":{"field":"s"}}},
  {"data":{"name":"p1"},
   "mark":{"type":"point","opacity":0},
   "encoding":{
    "x":{"field":"d","type":"quantitative","scale":{"domain":[0,360],"nice":false,"zero":false},"axis":{"orient":"top","values":[30,90,150,210,270,330],"tickSize":-5,"labels":false,"title":null}},
    "y":{"field":"mg","type":"quantitative","scale":{"domain":[100,500],"nice":false,"zero":false},"axis":{"orient":"right","values":[110,120,130,140,150,160,170,180,190,210,220,230,240,250,260,270,280,290,310,320,330,340,350,360,370,380,390,410,420,430,440,450,460,470,480,490],"tickSize":-4,"labels":false,"title":null}}}}
 ],
 "resolve":{"axis":{"x":"independent","y":"independent"}}
},
{
 "width":485,"height":336,
 "title":{"text":"Observed, Halley Bay 1979-1984,1997-2002"},
 "layer":[
  {"data":{"name":"p2"},"transform":[{"fold":["g1","g2","g3","g4","g5"],"as":["s","v"]}],
   "mark":{"type":"line","color":"#18a060","strokeWidth":1,"clip":true},
   "encoding":{
    "x":{"field":"d","type":"quantitative","scale":{"domain":[0,365],"nice":false,"zero":false},"axis":{"orient":"bottom","values":[0,61,122,182,243,304,365],"tickSize":-9,"labelPadding":24,"title":"Day","titlePadding":6,"labelFlush":false}},
    "y":{"field":"v","type":"quantitative","scale":{"domain":[100,500],"nice":false,"zero":false},"axis":{"orient":"left","values":[100,200,300,400,500],"tickSize":-9,"labelPadding":18,"title":"Dobson Units","titlePadding":12,"labelFlush":true}},
    "detail":{"field":"s"}}},
  {"data":{"name":"p2"},"transform":[{"fold":["b1","b2","b3","b4"],"as":["s","v"]}],
   "mark":{"type":"line","color":"#2850a5","strokeWidth":1,"clip":true},
   "encoding":{
    "x":{"field":"d","type":"quantitative","scale":{"domain":[0,365],"nice":false,"zero":false},"axis":{"orient":"bottom","values":[30.5,91.5,152.5,213.5,274.5,335.5],"tickSize":-5,"labels":false,"title":null}},
    "y":{"field":"v","type":"quantitative","scale":{"domain":[100,500],"nice":false,"zero":false},"axis":{"orient":"left","values":[110,120,130,140,150,160,170,180,190,210,220,230,240,250,260,270,280,290,310,320,330,340,350,360,370,380,390,410,420,430,440,450,460,470,480,490],"tickSize":-4,"labels":false,"title":null}},
    "detail":{"field":"s"}}},
  {"data":{"name":"p2"},
   "mark":{"type":"line","color":"#000","strokeWidth":1,"clip":true},
   "encoding":{
    "x":{"field":"d","type":"quantitative","scale":{"domain":[0,365],"nice":false,"zero":false},"axis":null},
    "y":{"field":"t","type":"quantitative","scale":{"domain":[100,500],"nice":false,"zero":false},"axis":null}}},
  {"data":{"name":"p2"},
   "mark":{"type":"line","color":"#000","strokeWidth":2,"clip":true},
   "encoding":{
    "x":{"field":"d","type":"quantitative","scale":{"domain":[0,365],"nice":false,"zero":false},"axis":{"orient":"top","values":[0,61,122,182,243,304,365],"tickSize":-9,"labels":false,"title":null}},
    "y":{"field":"k","type":"quantitative","scale":{"domain":[100,500],"nice":false,"zero":false},"axis":{"orient":"right","values":[100,200,300,400,500],"tickSize":-9,"labels":false,"title":null}}}},
  {"data":{"name":"p2"},
   "mark":{"type":"line","color":"#000","strokeWidth":2,"strokeDash":[8,5],"clip":true},
   "encoding":{
    "x":{"field":"d","type":"quantitative","scale":{"domain":[0,365],"nice":false,"zero":false},"axis":{"orient":"top","values":[30.5,91.5,152.5,213.5,274.5,335.5],"tickSize":-5,"labels":false,"title":null}},
    "y":{"field":"q","type":"quantitative","scale":{"domain":[100,500],"nice":false,"zero":false},"axis":{"orient":"right","values":[110,120,130,140,150,160,170,180,190,210,220,230,240,250,260,270,280,290,310,320,330,340,350,360,370,380,390,410,420,430,440,450,460,470,480,490],"tickSize":-4,"labels":false,"title":null}}}},
  {"data":{"name":"p2m"},
   "mark":{"type":"point","shape":"M-1,0L1,0M0,-1L0,1","filled":false,"color":"#18a060","size":110,"strokeWidth":1.6,"opacity":1,"clip":true},
   "encoding":{
    "x":{"field":"d","type":"quantitative","scale":{"domain":[0,365],"nice":false,"zero":false},"axis":null},
    "y":{"field":"p","type":"quantitative","scale":{"domain":[100,500],"nice":false,"zero":false},"axis":null}}},
  {"data":{"name":"p2m"},
   "mark":{"type":"point","shape":"triangle-up","filled":false,"color":"#18a060","size":120,"strokeWidth":1.3,"opacity":1,"clip":true},
   "encoding":{
    "x":{"field":"d","type":"quantitative","scale":{"domain":[0,365],"nice":false,"zero":false},"axis":null},
    "y":{"field":"t","type":"quantitative","scale":{"domain":[100,500],"nice":false,"zero":false},"axis":null}}}
 ],
 "resolve":{"axis":{"x":"independent","y":"independent"}}
},
{
 "width":487,"height":328,
 "title":{"text":"MA-ECHAM-CHEM, NyAlesund"},
 "layer":[
  {"data":{"name":"p3"},"transform":[{"fold":["g1","g2","g3","g4","g5","g6","g7","g8","g9","g10","g11","g12"],"as":["s","v"]}],
   "mark":{"type":"line","color":"#18a060","strokeWidth":1,"clip":true},
   "encoding":{
    "x":{"field":"d","type":"quantitative","scale":{"domain":[0,360],"nice":false,"zero":false},"axis":{"orient":"bottom","values":[0,60,120,180,240,300,360],"tickSize":-9,"labelPadding":24,"title":"Day","titlePadding":6,"labelFlush":false}},
    "y":{"field":"v","type":"quantitative","scale":{"domain":[200,600],"nice":false,"zero":false},"axis":{"orient":"left","values":[200,300,400,500,600],"tickSize":-9,"labelPadding":18,"title":"Dobson Units","titlePadding":12,"labelFlush":true}},
    "detail":{"field":"s"}}},
  {"data":{"name":"p3"},"transform":[{"fold":["b1","b2","b3","b4","b5","b6","b7","b8","b9","b10","b11","b12"],"as":["s","v"]}],
   "mark":{"type":"line","color":"#2850a5","strokeWidth":1,"clip":true},
   "encoding":{
    "x":{"field":"d","type":"quantitative","scale":{"domain":[0,360],"nice":false,"zero":false},"axis":{"orient":"bottom","values":[30,90,150,210,270,330],"tickSize":-5,"labels":false,"title":null}},
    "y":{"field":"v","type":"quantitative","scale":{"domain":[200,600],"nice":false,"zero":false},"axis":{"orient":"left","values":[210,220,230,240,250,260,270,280,290,310,320,330,340,350,360,370,380,390,410,420,430,440,450,460,470,480,490,510,520,530,540,550,560,570,580,590],"tickSize":-4,"labels":false,"title":null}},
    "detail":{"field":"s"}}},
  {"data":{"name":"p3"},"transform":[{"fold":["mg","mb"],"as":["s","v"]}],
   "mark":{"type":"line","color":"#000","strokeWidth":1.6,"clip":true},
   "encoding":{
    "x":{"field":"d","type":"quantitative","scale":{"domain":[0,360],"nice":false,"zero":false},"axis":{"orient":"top","values":[0,60,120,180,240,300,360],"tickSize":-9,"labels":false,"title":null}},
    "y":{"field":"v","type":"quantitative","scale":{"domain":[200,600],"nice":false,"zero":false},"axis":{"orient":"right","values":[200,300,400,500,600],"tickSize":-9,"labels":false,"title":null}},
    "detail":{"field":"s"}}},
  {"data":{"name":"p3"},
   "mark":{"type":"point","opacity":0},
   "encoding":{
    "x":{"field":"d","type":"quantitative","scale":{"domain":[0,360],"nice":false,"zero":false},"axis":{"orient":"top","values":[30,90,150,210,270,330],"tickSize":-5,"labels":false,"title":null}},
    "y":{"field":"mg","type":"quantitative","scale":{"domain":[200,600],"nice":false,"zero":false},"axis":{"orient":"right","values":[210,220,230,240,250,260,270,280,290,310,320,330,340,350,360,370,380,390,410,420,430,440,450,460,470,480,490,510,520,530,540,550,560,570,580,590],"tickSize":-4,"labels":false,"title":null}}}}
 ],
 "resolve":{"axis":{"x":"independent","y":"independent"}}
},
{
 "width":485,"height":335,
 "title":{"text":"Observed, NyAlesund 1979-1984, 1997-2002"},
 "layer":[
  {"data":{"name":"p4"},"transform":[{"fold":["g1","g2","g3","g4","g5","g6"],"as":["s","v"]}],
   "mark":{"type":"line","color":"#18a060","strokeWidth":1,"clip":true},
   "encoding":{
    "x":{"field":"d","type":"quantitative","scale":{"domain":[0,365],"nice":false,"zero":false},"axis":{"orient":"bottom","values":[0,61,122,182,243,304,365],"tickSize":-9,"labelPadding":23,"title":"Day","titlePadding":4,"labelFlush":false}},
    "y":{"field":"v","type":"quantitative","scale":{"domain":[100,500],"nice":false,"zero":false},"axis":{"orient":"left","values":[100,200,300,400,500],"tickSize":-9,"labelPadding":18,"title":"Dobson Units","titlePadding":12,"labelFlush":true}},
    "detail":{"field":"s"}}},
  {"data":{"name":"p4"},"transform":[{"fold":["b1","b2","b3","b4","b5","b6"],"as":["s","v"]}],
   "mark":{"type":"line","color":"#2850a5","strokeWidth":1,"clip":true},
   "encoding":{
    "x":{"field":"d","type":"quantitative","scale":{"domain":[0,365],"nice":false,"zero":false},"axis":{"orient":"bottom","values":[30.5,91.5,152.5,213.5,274.5,335.5],"tickSize":-5,"labels":false,"title":null}},
    "y":{"field":"v","type":"quantitative","scale":{"domain":[100,500],"nice":false,"zero":false},"axis":{"orient":"left","values":[110,120,130,140,150,160,170,180,190,210,220,230,240,250,260,270,280,290,310,320,330,340,350,360,370,380,390,410,420,430,440,450,460,470,480,490],"tickSize":-4,"labels":false,"title":null}},
    "detail":{"field":"s"}}},
  {"data":{"name":"p4"},
   "mark":{"type":"line","color":"#000","strokeWidth":2,"clip":true},
   "encoding":{
    "x":{"field":"d","type":"quantitative","scale":{"domain":[0,365],"nice":false,"zero":false},"axis":{"orient":"top","values":[0,61,122,182,243,304,365],"tickSize":-9,"labels":false,"title":null}},
    "y":{"field":"k","type":"quantitative","scale":{"domain":[100,500],"nice":false,"zero":false},"axis":{"orient":"right","values":[100,200,300,400,500],"tickSize":-9,"labels":false,"title":null}}}},
  {"data":{"name":"p4"},
   "mark":{"type":"line","color":"#000","strokeWidth":2,"strokeDash":[8,5],"clip":true},
   "encoding":{
    "x":{"field":"d","type":"quantitative","scale":{"domain":[0,365],"nice":false,"zero":false},"axis":{"orient":"top","values":[30.5,91.5,152.5,213.5,274.5,335.5],"tickSize":-5,"labels":false,"title":null}},
    "y":{"field":"q","type":"quantitative","scale":{"domain":[100,500],"nice":false,"zero":false},"axis":{"orient":"right","values":[110,120,130,140,150,160,170,180,190,210,220,230,240,250,260,270,280,290,310,320,330,340,350,360,370,380,390,410,420,430,440,450,460,470,480,490],"tickSize":-4,"labels":false,"title":null}}}},
  {"data":{"name":"p4m"},
   "mark":{"type":"point","shape":"M-1,0L1,0M0,-1L0,1","filled":false,"color":"#18a060","size":110,"strokeWidth":1.6,"opacity":1,"clip":true},
   "encoding":{
    "x":{"field":"d","type":"quantitative","scale":{"domain":[0,365],"nice":false,"zero":false},"axis":null},
    "y":{"field":"p","type":"quantitative","scale":{"domain":[100,500],"nice":false,"zero":false},"axis":null}}}
 ],
 "resolve":{"axis":{"x":"independent","y":"independent"}}
}
],
"spacing":91,
"bounds":"flush"
}
